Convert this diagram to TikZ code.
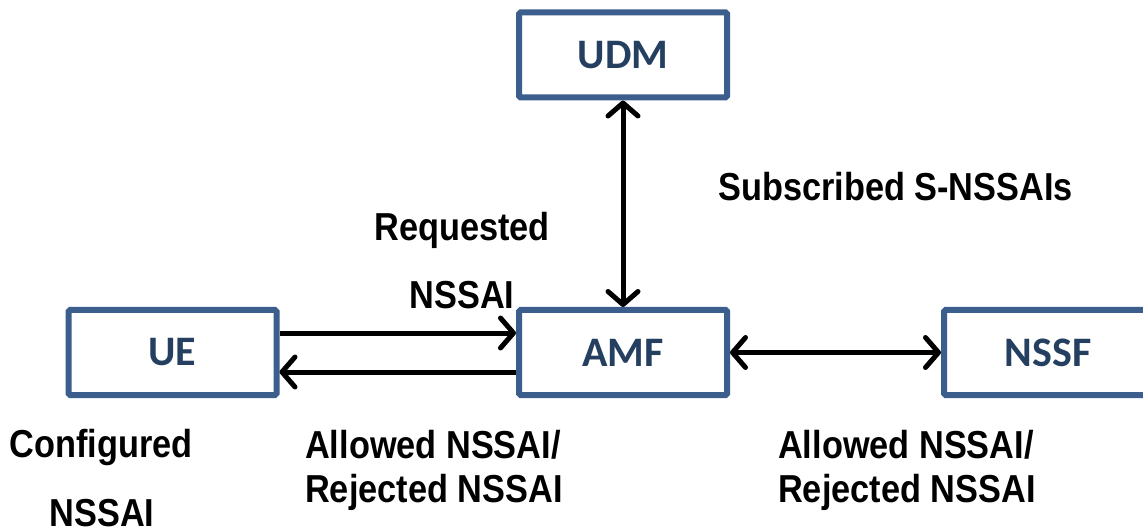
\documentclass[tikz,border=0pt]{standalone}
\usepackage{fontspec}
\usetikzlibrary{arrows.meta}
\newfontfamily\boxfont{Carlito}
\newfontfamily\lblfont[FakeStretch=0.88]{Liberation Sans}
\definecolor{boxline}{HTML}{3B5E8C}
\definecolor{boxtext}{HTML}{243F60}
\tikzset{
  nf/.style={draw=boxline, line width=6pt, rounded corners=1.5pt, fill=white,
    minimum width=208pt, minimum height=85pt, inner sep=0pt,
    text=boxtext, font=\boxfont\bfseries\fontsize{42}{42}\selectfont},
  lbl/.style={inner sep=0pt, text=black, font=\lblfont\bfseries\fontsize{39}{44}\selectfont},
  msg/.style={line width=5pt, -{Straight Barb[length=13pt,width=30pt,line cap=round,round]}},
  msgboth/.style={line width=5pt, {Straight Barb[length=13pt,width=30pt,line cap=round,round]}-{Straight Barb[length=13pt,width=30pt,line cap=round,round]}}
}
\begin{document}
\begin{tikzpicture}[x=1pt,y=-1pt]
  \useasboundingbox (0,0) rectangle (1143,529);
  \clip (0,0) rectangle (1143,529);

  % network functions
  \node[nf] (UDM)  at (623,55)    {UDM};
  \node[nf] (UE)   at (172.5,352.5) {UE};
  \node[nf] (AMF)  at (623,352.5) {AMF};
  \node[nf] (NSSF) at (1048,352.5) {NSSF};

  % signalling between them
  \draw[msg] ([yshift=19.5pt]UE.east) -- ([yshift=19.5pt]AMF.west);
  \draw[msg] ([yshift=-19.5pt]AMF.west) -- ([yshift=-19.5pt]UE.east);
  \draw[msgboth] (AMF.east) -- (NSSF.west);
  \draw[msgboth] (UDM.south) -- (AMF.north);

  % message contents
  \node[lbl] (req1) at (462,230) {Requested};
  \node[lbl] (req2) at (462,295) {NSSAI};
  \node[lbl, anchor=west] (sub) at (718,187) {Subscribed S-NSSAIs};
  \node[lbl] (cfg1) at (101,448) {Configured};
  \node[lbl] (cfg2) at (102,513) {NSSAI};
  \node[lbl, anchor=west, align=left] (allowUE) at (305,470) {Allowed NSSAI/\\Rejected NSSAI};
  \node[lbl, anchor=west, align=left] (allowNSSF) at (778,470) {Allowed NSSAI/\\Rejected NSSAI};
\end{tikzpicture}
\end{document}
